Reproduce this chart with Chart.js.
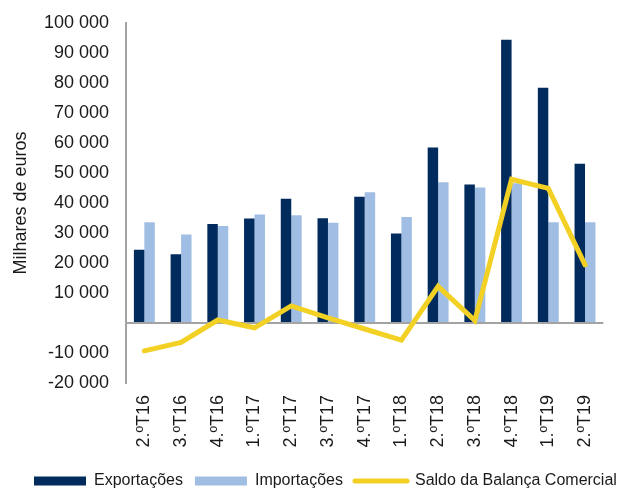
<!DOCTYPE html>
<html>
<head>
<meta charset="utf-8">
<script src="https://cdn.jsdelivr.net/npm/chart.js@4"></script>
<style>
  html, body { margin: 0; padding: 0; background: #fff; }
  canvas { display: block; }
</style>
</head>
<body>
<canvas id="c" width="619" height="489"></canvas>
<script>
const categories = ['2.ºT16','3.ºT16','4.ºT16','1.ºT17','2.ºT17','3.ºT17','4.ºT17','1.ºT18','2.ºT18','3.ºT18','4.ºT18','1.ºT19','2.ºT19'];
const exportacoes = [24400, 22900, 33000, 34800, 41400, 34900, 42100, 29800, 58500, 46200, 94400, 78400, 53100];
const importacoes = [33600, 29500, 32300, 36200, 35900, 33400, 43600, 35300, 46900, 45200, 46600, 33600, 33600];
const saldo = [-9300, -6500, 1000, -1600, 5700, 1700, -2000, -5700, 12200, 800, 47900, 44900, 19400];
const yTickLabels = ['-20 000','-10 000','','10 000','20 000','30 000','40 000','50 000','60 000','70 000','80 000','90 000','100 000'];
const seriesNames = ['Exportações', 'Importações', 'Saldo da Balança Comercial'];
const yTitle = 'Milhares de euros';

const DARK = '#012b5d';
const LIGHT = '#a0bee4';
const YELLOW = '#f2d124';
const GRAY = '#a3a3a3';
const TXT = '#1a1a1a';
const FONT = "'Liberation Sans', Arial, sans-serif";

const legendShift = {
  id: 'legendShift',
  afterLayout(chart) {
    const l = chart.legend;
    const dx = 22, dy = 10;
    l.left += dx; l.right += dx; l.top += dy; l.bottom += dy;
  }
};

new Chart(document.getElementById('c'), {
  type: 'bar',
  data: {
    labels: categories,
    datasets: [
      { label: seriesNames[0], data: exportacoes, backgroundColor: DARK, borderWidth: 0, order: 1,
        categoryPercentage: 0.57, barPercentage: 1.0 },
      { label: seriesNames[1], data: importacoes, backgroundColor: LIGHT, borderWidth: 0, order: 1,
        categoryPercentage: 0.57, barPercentage: 1.0 },
      { type: 'line', label: seriesNames[2], data: saldo, borderColor: YELLOW, backgroundColor: YELLOW,
        borderWidth: 5, pointRadius: 0, tension: 0, fill: false, borderCapStyle: 'round', order: 0 }
    ]
  },
  options: {
    responsive: false,
    animation: false,
    devicePixelRatio: 1,
    layout: { padding: { left: 0, right: 10, top: 23, bottom: 0 } },
    plugins: {
      tooltip: { enabled: false },
      legend: {
        position: 'bottom',
        align: 'start',
        labels: {
          usePointStyle: true,
          pointStyleWidth: 52,
          boxHeight: 9,
          padding: 12,
          color: TXT,
          font: { family: FONT, size: 16 },
          generateLabels(chart) {
            return chart.data.datasets.map((ds, i) => {
              const isLine = ds.type === 'line';
              return {
                text: ds.label,
                datasetIndex: i,
                fillStyle: isLine ? ds.borderColor : ds.backgroundColor,
                strokeStyle: isLine ? ds.borderColor : ds.backgroundColor,
                lineWidth: isLine ? 5 : 0,
                lineCap: 'round',
                pointStyle: isLine ? 'line' : 'rect',
                hidden: false,
                fontColor: TXT
              };
            });
          }
        }
      }
    },
    scales: {
      x: {
        grid: { display: false, drawTicks: false },
        border: { display: false },
        ticks: {
          color: TXT, font: { family: FONT, size: 18 },
          minRotation: 90, maxRotation: 90, padding: 12, autoSkip: false
        },
        afterFit(scale) { scale.height = 68; }
      },
      y: {
        min: -20000, max: 100000,
        grid: {
          drawTicks: true,
          tickLength: 14,
          tickColor: 'rgba(0,0,0,0)',
          color: (ctx) => (ctx.tick && ctx.tick.value === 0) ? GRAY : 'rgba(0,0,0,0)',
          lineWidth: 2
        },
        border: { display: true, color: GRAY, width: 2 },
        ticks: {
          stepSize: 10000,
          padding: 3,
          color: TXT,
          font: { family: FONT, size: 18 },
          callback: (value, index) => yTickLabels[index]
        },
        title: {
          display: true, text: yTitle, color: TXT,
          font: { family: FONT, size: 18 },
          padding: { top: 10, bottom: 0 }
        },
        afterFit(scale) { scale.width = 126; }
      }
    }
  },
  plugins: [legendShift]
});
</script>
</body>
</html>
